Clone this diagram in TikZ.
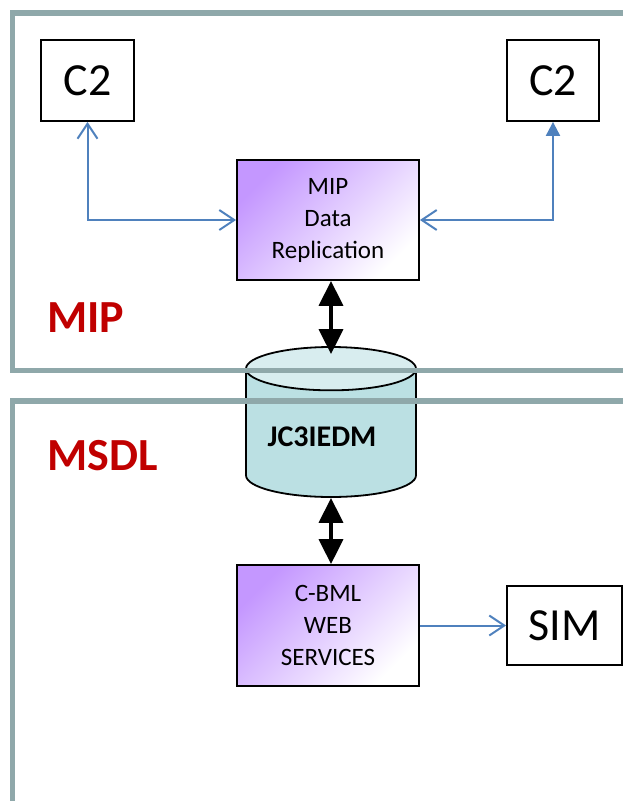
\documentclass[tikz,border=0pt]{standalone}
\usepackage{fontspec}
\setmainfont{Carlito}
\usetikzlibrary{positioning,arrows.meta,shapes.geometric}
\definecolor{framegray}{HTML}{8FA8AA}
\definecolor{lilac}{HTML}{C497FF}
\definecolor{dbbody}{HTML}{BBE0E3}
\definecolor{dbtop}{HTML}{D8EDEF}
\definecolor{linkblue}{HTML}{4F81BD}
\definecolor{labelred}{HTML}{C00000}

\begin{document}
\begin{tikzpicture}[x=1pt,y=-1pt,>={Straight Barb[length=15pt,width=20pt]},
    box node/.style={draw,line width=1.8pt,inner sep=0pt,font=\fontsize{46}{50}\selectfont},
    service node/.style={draw,line width=1.8pt,inner sep=0pt,minimum width=182pt,minimum height=120pt,
        align=center,top color=lilac,bottom color=white,shading angle=45,font=\fontsize{25}{32}\selectfont},
    link/.style={draw=linkblue,line width=2pt},
    sync/.style={line width=3.5pt,{Triangle[length=25pt,width=24pt]}-{Triangle[length=25pt,width=24pt]}},
    frame/.style={draw=framegray,line width=5.5pt},
    area label/.style={text=labelred,inner sep=0pt,anchor=west,font=\bfseries\fontsize{46}{50}\selectfont}]

\useasboundingbox (0,0) rectangle (623,801);
\clip (0,0) rectangle (623,801);

% MIP side
\node[box node,minimum width=93pt,minimum height=81pt]  (c2left)  at (87.5,80.5) {C2};
\node[box node,minimum width=92pt,minimum height=81pt]  (c2right) at (553,80.5)  {C2};
\node[service node]                                     (repl)    at (328,220)   {MIP\\Data\\Replication};

% shared data base
\node[cylinder,shape border rotate=90,draw,line width=1.8pt,aspect=6.5,anchor=shape center,
      minimum width=170pt,minimum height=150pt,
      cylinder uses custom fill,cylinder body fill=dbbody,cylinder end fill=dbtop] (db) at (331,422) {};
\node[font=\bfseries\fontsize{30}{34}\selectfont] (dblabel) at (322,437) {JC3IEDM};

% MSDL side
\node[service node,minimum height=121pt]                (cbml)    at (328,625.5) {C-BML\\WEB\\SERVICES};
\node[box node,minimum width=115pt,minimum height=79pt] (sim)     at (564.5,625.5) {SIM};

% areas
\draw[frame] (640,13) -- (12.5,13) -- (12.5,370.5) -- (640,370.5);
\draw[frame] (640,401) -- (12.5,401) -- (12.5,820);
\node[area label] (miplabel)  at (47,318) {MIP};
\node[area label] (msdllabel) at (47,456) {MSDL};

\draw[link,<->] (c2left.south) |- (repl.west);
\draw[link,<-{Triangle[length=14pt,width=14pt]}] (repl.east) -| (c2right.south);
\draw[link,->] (cbml.east) -- (sim.west);

\draw[sync] (db.top |- repl.south) -- ([yshift=-8pt]db.top);
\draw[sync] (db.bottom) -- (db.bottom |- cbml.north);
\end{tikzpicture}
\end{document}
